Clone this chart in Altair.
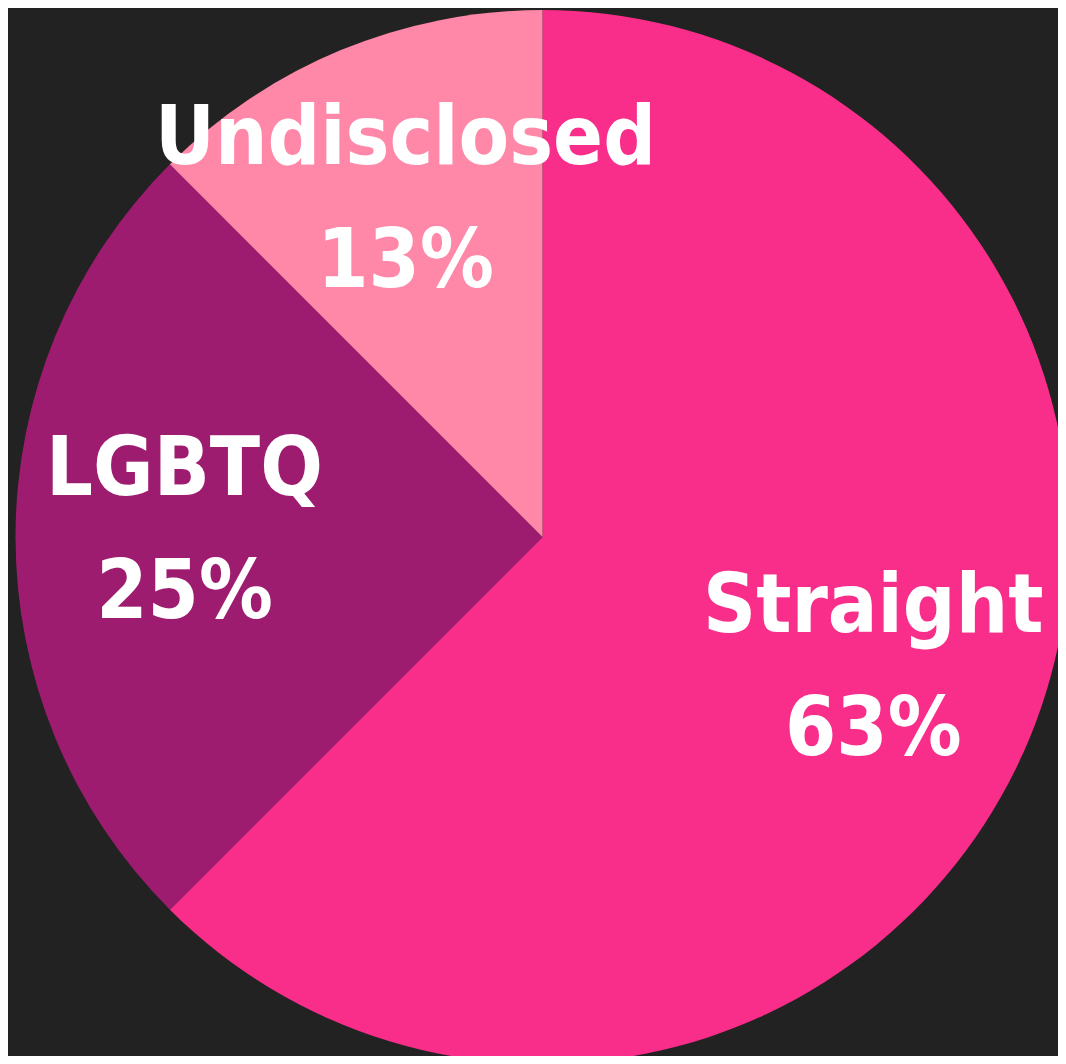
import altair as alt
import pandas as pd

categories = ["Straight", "LGBTQ", "Undisclosed"]
shares = [62.5, 25.0, 12.5]
pct_labels = ["63%", "25%", "13%"]
slice_order = [0, 1, 2]
colors = ["#F92D8A", "#9E1C70", "#FF87A8"]

df = pd.DataFrame({
    "category": categories,
    "share": shares,
    "pct": pct_labels,
    "order": slice_order,
})
df["label"] = df["category"] + "\n" + df["pct"]

cx, cy = 534.5, 529

base = alt.Chart(df).encode(
    theta=alt.Theta("share:Q", stack=True),
    order=alt.Order("order:Q"),
    x=alt.value(cx),
    y=alt.value(cy),
)

arcs = base.mark_arc(outerRadius=527).encode(
    color=alt.Color(
        "category:N",
        scale=alt.Scale(domain=categories, range=colors),
        legend=None,
    )
)

labels = base.mark_text(
    radius=358,
    dy=-67,
    font="DejaVu Sans Condensed, sans-serif",
    fontSize=82,
    fontWeight="bold",
    color="white",
    lineBreak="\n",
    lineHeight=123,
    align="center",
    baseline="middle",
).encode(text="label:N")

chart = (arcs + labels).properties(
    width=1050,
    height=1048,
    background="#222222",
    padding=0,
    autosize=alt.AutoSizeParams(type="none"),
).configure_view(stroke=None)

chart.save("out.html", embed_options={"renderer": "svg", "actions": False})
